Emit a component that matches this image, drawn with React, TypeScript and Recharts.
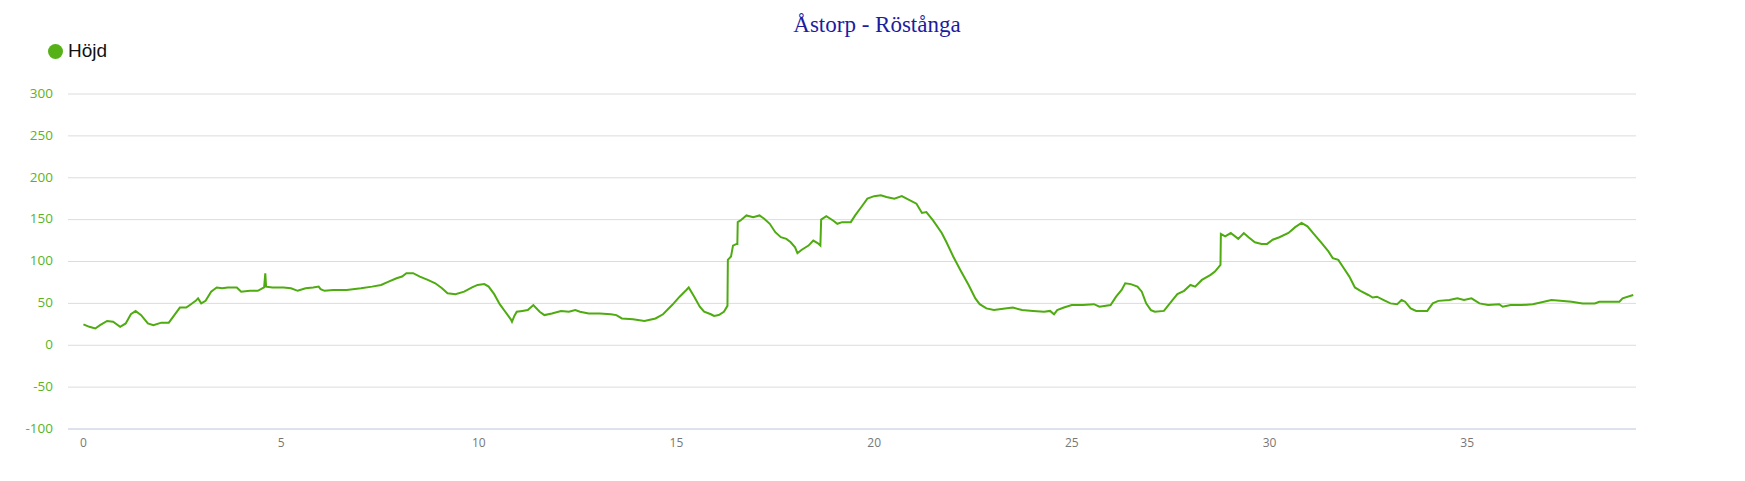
import React from "react";
import { LineChart, Line, XAxis, YAxis, CartesianGrid } from "recharts";

// distance along the route (km) and elevation (m)
const km = [
  0, 0.15, 0.3, 0.42, 0.6, 0.75, 0.93, 1.07, 1.2, 1.32, 1.46, 1.63, 1.77, 1.97, 2.16, 2.3, 2.44, 2.6, 2.72, 2.84,
  2.9, 2.98, 3.09, 3.23, 3.37, 3.51, 3.65, 3.79, 3.88, 3.99, 4.21, 4.41, 4.57, 4.6, 4.62, 4.78, 5.06, 5.25, 5.42, 5.62,
  5.81, 5.95, 6.0, 6.1, 6.32, 6.66, 7.02, 7.3, 7.53, 7.72, 7.92, 8.06, 8.17, 8.34, 8.51, 8.71, 8.9, 9.07, 9.21, 9.41,
  9.63, 9.83, 9.97, 10.14, 10.25, 10.39, 10.53, 10.67, 10.81, 10.84, 10.9, 10.96, 11.1, 11.24, 11.38, 11.54, 11.66, 11.85, 12.08, 12.28,
  12.44, 12.56, 12.78, 13.06, 13.34, 13.48, 13.62, 13.9, 14.19, 14.47, 14.66, 14.89, 15.08, 15.25, 15.31, 15.45, 15.59, 15.7, 15.87, 15.95,
  16.07, 16.2, 16.29, 16.3, 16.38, 16.43, 16.52, 16.54, 16.55, 16.62, 16.77, 16.94, 17.1, 17.22, 17.36, 17.5, 17.64, 17.78, 17.89, 18.0,
  18.06, 18.17, 18.34, 18.46, 18.57, 18.64, 18.66, 18.79, 18.96, 19.07, 19.19, 19.41, 19.52, 19.69, 19.83, 20.0, 20.17, 20.31, 20.51, 20.7,
  20.87, 21.07, 21.21, 21.32, 21.49, 21.71, 21.83, 22.0, 22.19, 22.39, 22.56, 22.67, 22.84, 23.03, 23.31, 23.51, 23.74, 24.02, 24.3, 24.45,
  24.55, 24.63, 24.8, 25.0, 25.28, 25.56, 25.7, 25.98, 26.12, 26.26, 26.35, 26.49, 26.66, 26.77, 26.88, 27.0, 27.1, 27.33, 27.53, 27.67,
  27.84, 28.0, 28.12, 28.29, 28.51, 28.62, 28.76, 28.77, 28.88, 29.02, 29.21, 29.35, 29.47, 29.63, 29.8, 29.94, 30.08, 30.25, 30.48, 30.65,
  30.81, 30.96, 31.12, 31.32, 31.49, 31.6, 31.74, 31.88, 32.02, 32.16, 32.3, 32.5, 32.61, 32.72, 32.89, 33.06, 33.23, 33.34, 33.43, 33.57,
  33.71, 33.99, 34.13, 34.27, 34.55, 34.75, 34.92, 35.11, 35.31, 35.53, 35.81, 35.9, 36.1, 36.38, 36.66, 36.94, 37.13, 37.36, 37.64, 37.92,
  38.23, 38.34, 38.68, 38.85, 38.93, 39.2,
];

const hojd = [
  25, 22, 20, 24, 29, 28, 22, 26, 37, 41, 36, 26, 24, 27, 27, 36, 45, 45, 49, 53,
  56, 50, 53, 64, 69, 68, 69, 69, 69, 64, 65, 65, 69, 86, 70, 69, 69, 68, 65, 68,
  69, 70, 67, 65, 66, 66, 68, 70, 72, 76, 80, 82, 86, 86, 82, 78, 74, 68, 62, 61,
  64, 69, 72, 73, 70, 61, 49, 40, 31, 28, 35, 40, 41, 42, 48, 40, 36, 38, 41, 40,
  42, 40, 38, 38, 37, 36, 32, 31, 29, 32, 37, 48, 58, 66, 69, 58, 46, 40, 37, 35,
  36, 40, 47, 102, 106, 119, 121, 121, 147, 149, 155, 153, 155, 151, 145, 135, 129, 127, 123, 117,
  110, 114, 119, 125, 122, 119, 150, 154, 149, 145, 147, 147, 155, 166, 175, 178, 179, 177, 175, 178,
  174, 169, 158, 159, 149, 134, 123, 106, 89, 72, 56, 49, 44, 42, 44, 45, 42, 41, 40, 41,
  37, 42, 45, 48, 48, 49, 46, 48, 58, 66, 74, 73, 70, 64, 50, 42, 40, 41, 53, 61,
  65, 72, 70, 78, 84, 88, 96, 133, 130, 134, 127, 134, 129, 123, 121, 121, 126, 129, 134, 141,
  146, 142, 133, 122, 112, 104, 102, 92, 82, 69, 65, 60, 57, 58, 54, 50, 49, 54, 52, 44,
  41, 41, 50, 53, 54, 56, 54, 56, 50, 48, 49, 46, 48, 48, 49, 52, 54, 53, 52, 50,
  50, 52, 52, 52, 56, 60,
];

const xTicks = [0, 5, 10, 15, 20, 25, 30, 35];
const yTicks = [-100, -50, 0, 50, 100, 150, 200, 250, 300];

const data = km.map((k, i) => ({ km: k, hojd: hojd[i] }));

const GREEN = "#4eab10";

export default function App() {
  return (
    <div style={{ position: "relative", width: 1729, height: 465, background: "#fff" }}>
      <div
        style={{
          position: "absolute",
          left: 0,
          width: 1738,
          top: 4,
          textAlign: "center",
          fontFamily: "'Liberation Serif', serif",
          fontSize: 23,
          color: "#1c1ca0",
        }}
      >
        Åstorp - Röstånga
      </div>

      <div style={{ position: "absolute", left: 40, top: 32, display: "flex", alignItems: "center" }}>
        <div style={{ width: 15, height: 15, borderRadius: "50%", background: "#55b116", marginRight: 5 }} />
        <span style={{ fontFamily: "'Liberation Sans', sans-serif", fontSize: 19, color: "#111" }}>Höjd</span>
      </div>

      {/* faint decoration in the top right corner */}
      <svg style={{ position: "absolute", left: 1450, top: 55 }} width={279} height={40}>
        <defs>
          <linearGradient id="fade" x1="0" x2="1" y1="0" y2="0">
            <stop offset="0" stopColor="#ddd" stopOpacity={0} />
            <stop offset="0.6" stopColor="#ddd" stopOpacity={1} />
            <stop offset="1" stopColor="#ddd" stopOpacity={0} />
          </linearGradient>
        </defs>
        <line x1={40} x2={270} y1={17} y2={17} stroke="url(#fade)" strokeWidth={1} />
        <line x1={60} x2={260} y1={21} y2={21} stroke="url(#fade)" strokeWidth={1} />
        <line x1={10} x2={230} y1={26} y2={26} stroke="url(#fade)" strokeWidth={1} />
        <line x1={0} x2={180} y1={29} y2={29} stroke="url(#fade)" strokeWidth={1} />
      </svg>

      <div style={{ position: "absolute", left: 0, top: 0 }}>
        <LineChart width={1729} height={465} data={data} margin={{ top: 86, right: 101, bottom: 14, left: 0 }}>
          <CartesianGrid vertical={false} stroke="#dcdcdc" />
          <XAxis
            type="number"
            dataKey="km"
            domain={[-0.39, 39.27]}
            ticks={xTicks}
            allowDataOverflow
            height={30}
            tickLine={false}
            tickSize={0}
            tickMargin={9}
            axisLine={{ stroke: "#ccd6eb" }}
            tick={{ fill: "#777", fontSize: 12, fontFamily: "'Open Sans', sans-serif" }}
          />
          <YAxis
            type="number"
            domain={[-100, 300]}
            ticks={yTicks}
            width={60}
            axisLine={false}
            tickLine={false}
            tickSize={0}
            tickMargin={15}
            tick={{ fill: "#5bb41e", fontSize: 13.5, fontFamily: "'Open Sans', sans-serif", dy: -1 }}
          />
          <Line
            type="linear"
            dataKey="hojd"
            stroke={GREEN}
            strokeWidth={2}
            dot={false}
            isAnimationActive={false}
          />
        </LineChart>
      </div>
    </div>
  );
}
